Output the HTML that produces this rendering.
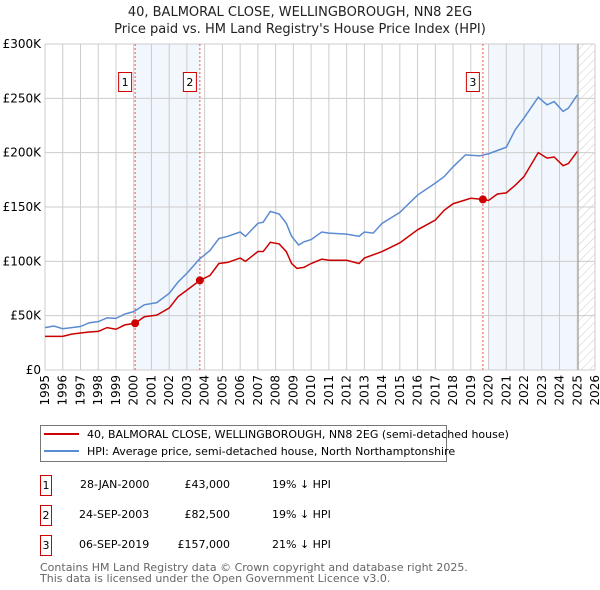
<!DOCTYPE html>
<html><head><meta charset="utf-8"><style>
body{margin:0;background:#fff;font-family:"DejaVu Sans","Liberation Sans",sans-serif;}
#wrap{position:relative;width:600px;height:590px;overflow:hidden;}
svg text{font-family:"DejaVu Sans","Liberation Sans",sans-serif;}
</style></head><body>
<div id="wrap">
<svg id="chart" width="600" height="590">
<text x="300" y="16" text-anchor="middle" font-size="13" fill="#222">40, BALMORAL CLOSE, WELLINGBOROUGH, NN8 2EG</text>
<text x="300" y="33" text-anchor="middle" font-size="13" fill="#222">Price paid vs. HM Land Registry's House Price Index (HPI)</text>
<g id="grid"></g><g id="marks"></g>
<g>
<rect x="40.5" y="425.5" width="406" height="36" fill="#fff" stroke="#777"/>
<line x1="44" y1="434" x2="79" y2="434" stroke="#cc0000" stroke-width="2"/>
<text x="87" y="438" font-size="11" fill="#000">40, BALMORAL CLOSE, WELLINGBOROUGH, NN8 2EG (semi-detached house)</text>
<line x1="44" y1="451" x2="79" y2="451" stroke="#5b8bd0" stroke-width="2"/>
<text x="87" y="455" font-size="11" fill="#000">HPI: Average price, semi-detached house, North Northamptonshire</text>
</g>
<g font-size="11" fill="#000">
<rect x="40.5" y="475.5" width="11" height="20" fill="#fff" stroke="#cc0000"/><text x="46" y="489" text-anchor="middle">1</text>
<text x="80" y="488">28-JAN-2000</text><text x="230" y="488" text-anchor="end">£43,000</text><text x="272" y="488">19% ↓ HPI</text>
<rect x="40.5" y="505.5" width="11" height="20" fill="#fff" stroke="#cc0000"/><text x="46" y="519" text-anchor="middle">2</text>
<text x="79" y="518">24-SEP-2003</text><text x="230" y="518" text-anchor="end">£82,500</text><text x="272" y="518">19% ↓ HPI</text>
<rect x="40.5" y="535.5" width="11" height="20" fill="#fff" stroke="#cc0000"/><text x="46" y="549" text-anchor="middle">3</text>
<text x="79" y="548">06-SEP-2019</text><text x="230" y="548" text-anchor="end">£157,000</text><text x="272" y="548">21% ↓ HPI</text>
</g>
<text x="40" y="571" font-size="11" fill="#666">Contains HM Land Registry data © Crown copyright and database right 2025.</text>
<text x="40" y="582" font-size="11" fill="#666">This data is licensed under the Open Government Licence v3.0.</text>
</svg>
</div>
<script>
const hpiYears=[1995,1995.5,1996,1997,1997.5,1998,1998.5,1999,1999.5,2000,2000.6,2001.3,2002,2002.5,2003,2003.7,2004.3,2004.8,2005.3,2006,2006.3,2007,2007.3,2007.7,2008.2,2008.6,2008.9,2009.3,2009.6,2010,2010.6,2011,2012,2012.7,2013,2013.5,2014,2014.5,2015,2016,2017,2017.5,2018,2018.7,2019.5,2020,2020.5,2021,2021.5,2022,2022.8,2023.3,2023.7,2024.2,2024.5,2025];
const hpiValues=[39,40.5,38,40,43.5,44.5,48,47.5,51.5,53.7,60,62,70.5,81,89,102,110,121,123,127,123,135,136,146,143.5,135,123,115,118,120,127,126,125,123,127,126,135,140,145,161,172,178,187,198,197,199,202,205,221,232,251,244,247,238,241,253];
const ppYears=[1995,1996,1996.5,1997,1997.5,1998,1998.5,1999,1999.5,2000.08,2000.6,2001.3,2002,2002.5,2003,2003.73,2004.3,2004.8,2005.3,2006,2006.3,2007,2007.3,2007.7,2008.2,2008.6,2008.9,2009.2,2009.6,2010,2010.6,2011,2012,2012.7,2013,2014,2014.5,2015,2016,2017,2017.5,2018,2019,2019.68,2020,2020.5,2021,2021.5,2022,2022.8,2023.3,2023.7,2024.2,2024.5,2025];
const ppValues=[31,31,33,34,35,35.5,39,37.5,41.5,43,49,50.5,57,67.5,73.5,82.5,87,98,99,103,100,109,109,117.5,116,109,98,93.5,94.5,98,102,101,101,98,103,109,113,117,129,138,147,153,158,157,156,162,163,170,178,200,195,196,188,190,201];
const saleYears=[2000.08,2003.73,2019.68];
const saleValues=[43,82.5,157];
const saleLabels=["1","2","3"];
const yTicks=[0,50,100,150,200,250,300];
const yTickLabels=["£0","£50K","£100K","£150K","£200K","£250K","£300K"];
const xTicks=[1995,1996,1997,1998,1999,2000,2001,2002,2003,2004,2005,2006,2007,2008,2009,2010,2011,2012,2013,2014,2015,2016,2017,2018,2019,2020,2021,2022,2023,2024,2025,2026];
const X0=45,X1=595,Y0=370,Y1=44;
const xs=y=>X0+(y-1995)/31*(X1-X0);
const ys=v=>Y0-v/300*(Y0-Y1);
const NS="http://www.w3.org/2000/svg";
function mk(tag,attrs,parent,txt){const e=document.createElementNS(NS,tag);for(const k in attrs)e.setAttribute(k,attrs[k]);if(txt!==undefined)e.textContent=txt;parent.appendChild(e);return e;}
const grid=document.getElementById('grid'),marks=document.getElementById('marks');
// shading
let s=mk('rect',{x:xs(2000.08),y:Y1,width:xs(2003.73)-xs(2000.08),height:Y0-Y1,fill:'#eef3fc',opacity:0.75},grid);

s=mk('rect',{x:xs(2020),y:Y1,width:xs(2025.05)-xs(2020),height:Y0-Y1,fill:'#eef3fc',opacity:0.75},grid);

const defs=mk('defs',{},grid);
const pat=mk('pattern',{id:'hatch',width:6,height:6,patternUnits:'userSpaceOnUse',patternTransform:'rotate(45)'},defs);
mk('line',{x1:0,y1:0,x2:0,y2:6,stroke:'#ccc','stroke-width':1},pat);
s=mk('rect',{x:xs(2025.05),y:Y1,width:X1-xs(2025.05),height:Y0-Y1,fill:'url(#hatch)'},grid);

xTicks.forEach(t=>{
 const l=mk('line',{x1:xs(t),y1:Y1,x2:xs(t),y2:Y0,stroke:'#ccc','stroke-width':1},grid);
 
 const tx=mk('text',{x:0,y:0,transform:`translate(${xs(t)+4},${Y0+5}) rotate(-90)`,'text-anchor':'end','font-size':12,fill:'#000'},grid,String(t));
 
});
yTicks.forEach((t,i)=>{
 const l=mk('line',{x1:X0,y1:ys(t),x2:X1,y2:ys(t),stroke:'#ccc','stroke-width':1},grid);
 
 const tx=mk('text',{x:X0-4,y:ys(t)+4,'text-anchor':'end','font-size':12,fill:'#000'},grid,yTickLabels[i]);
 
});
const vl=mk('line',{x1:xs(2025.05),y1:Y1,x2:xs(2025.05),y2:Y0,stroke:'#999','stroke-width':1},grid);

saleYears.forEach((y,i)=>{
 const l=mk('line',{x1:xs(y),y1:Y1,x2:xs(y),y2:Y0,stroke:'#ee5555','stroke-width':1,'stroke-dasharray':'2,2'},marks);
 
 const r=mk('rect',{x:xs(y)-16.5,y:72.5,width:13,height:19,fill:'#fff',stroke:'#cc0000'},marks);
 
 const t=mk('text',{x:xs(y)-10,y:86,'text-anchor':'middle','font-size':11,fill:'#000'},marks,saleLabels[i]);
 
});
let p=mk('polyline',{points:hpiYears.map((y,i)=>xs(y)+','+ys(hpiValues[i])).join(' '),fill:'none',stroke:'#5b8bd0','stroke-width':1.5},marks);

p=mk('polyline',{points:ppYears.map((y,i)=>xs(y)+','+ys(ppValues[i])).join(' '),fill:'none',stroke:'#cc0000','stroke-width':1.5},marks);

saleYears.forEach((y,i)=>{
 const c=mk('circle',{cx:xs(y),cy:ys(saleValues[i]),r:4,fill:'#cc0000'},marks);
 
});
</script>
</body></html>
